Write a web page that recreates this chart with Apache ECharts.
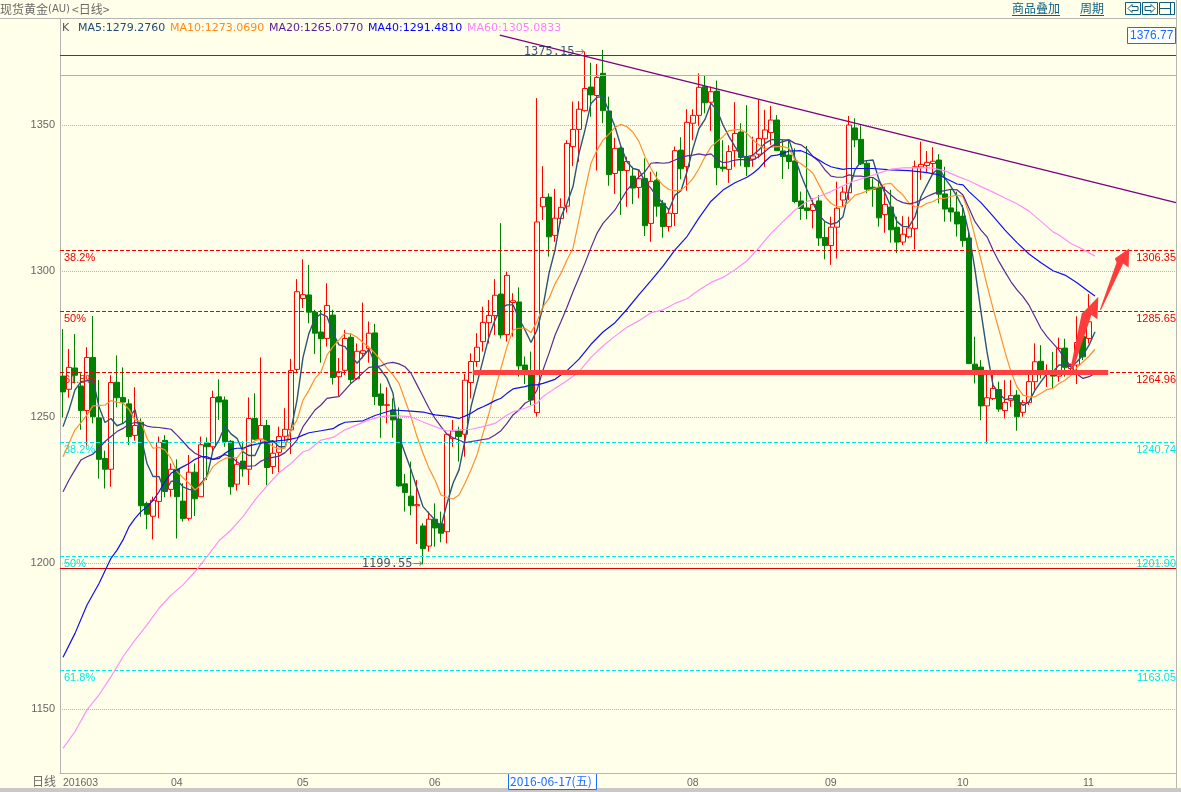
<!DOCTYPE html>
<html>
<head>
<meta charset="utf-8">
<style>html,body{margin:0;padding:0;background:#FFFFEA;overflow:hidden}#c{width:1181px;height:792px}</style>
<script src="https://cdn.jsdelivr.net/npm/echarts@6/dist/echarts.min.js"></script>
</head>
<body>
<div id="c"></div>
<script>
const categories = ['03-08','03-09','03-10','03-11','03-14','03-15','03-16','03-17','03-18','03-21','03-22','03-23','03-24','03-25','03-28','03-29','03-30','03-31',
'04-01','04-04','04-05','04-06','04-07','04-08','04-11','04-12','04-13','04-14','04-15','04-18','04-19','04-20','04-21','04-22','04-25','04-26','04-27','04-28','04-29',
'05-02','05-03','05-04','05-05','05-06','05-09','05-10','05-11','05-12','05-13','05-16','05-17','05-18','05-19','05-20','05-23','05-24','05-25','05-26','05-27','05-30','05-31',
'06-01','06-02','06-03','06-06','06-07','06-08','06-09','06-10','06-13','06-14','06-15','06-16','06-17','06-20','06-21','06-22','06-23','06-24','06-27','06-28','06-29','06-30',
'07-01','07-04','07-05','07-06','07-07','07-08','07-11','07-12','07-13','07-14','07-15','07-18','07-19','07-20','07-21','07-22','07-25','07-26','07-27','07-28','07-29',
'08-01','08-02','08-03','08-04','08-05','08-08','08-09','08-10','08-11','08-12','08-15','08-16','08-17','08-18','08-19','08-22','08-23','08-24','08-25','08-26','08-29','08-30','08-31',
'09-01','09-02','09-05','09-06','09-07','09-08','09-09','09-12','09-13','09-14','09-15','09-16','09-19','09-20','09-21','09-22','09-23','09-26','09-27','09-28','09-29','09-30',
'10-03','10-04','10-05','10-06','10-07','10-10','10-11','10-12','10-13','10-14','10-17','10-18','10-19','10-20','10-21','10-24','10-25','10-26','10-27','10-28','10-31',
'11-01','11-02','11-03','11-04','11-07','11-08','11-09','11-10','11-11','11-14','11-15','11-16','11-17','11-18','11-21','11-22'];
const monthTicks = {'03-08':'201603','04-01':'04','05-02':'05','06-01':'06','08-01':'08','09-01':'09','10-03':'10','11-01':'11'};
const priceTicks = [1150,1200,1250,1300,1350];

// open, close, low, high
const candles = [
[1264.0,1258.6,1249.8,1280.1],[1259.5,1267.0,1256.6,1273.3],[1266.8,1264.3,1261.5,1278.4],[1260.6,1252.2,1245.6,1265.0],[1252.2,1270.4,1239.8,1273.9],
[1270.4,1250.1,1247.8,1284.6],[1249.7,1235.5,1228.9,1262.7],[1235.8,1232.1,1225.5,1238.5],[1232.1,1261.8,1226.1,1264.3],[1261.9,1256.6,1253.3,1271.1],
[1256.7,1255.1,1247.8,1267.0],[1254.5,1243.3,1240.4,1256.1],[1243.7,1247.1,1241.9,1260.2],[1248.2,1219.6,1215.9,1249.5],[1220.4,1216.7,1211.6,1221.0],
[1216.0,1221.5,1208.1,1222.7],[1221.1,1241.3,1215.3,1243.3],[1242.0,1224.5,1222.5,1243.8],[1225.2,1232.1,1222.7,1234.1],[1232.1,1222.7,1208.4,1235.5],
[1221.2,1215.2,1214.2,1227.3],[1215.3,1231.1,1214.5,1237.0],[1231.1,1222.0,1216.1,1234.1],[1222.7,1240.5,1222.7,1243.3],[1241.1,1239.8,1228.4,1243.0],
[1239.8,1256.7,1238.1,1259.0],[1256.9,1255.1,1249.0,1262.9],[1255.8,1241.6,1239.8,1257.0],[1241.7,1226.1,1223.4,1242.1],[1227.0,1233.8,1224.8,1235.8],
[1234.9,1232.2,1229.6,1241.6],[1232.1,1249.5,1226.7,1256.7],[1249.5,1242.4,1242.1,1258.1],[1242.4,1247.1,1241.0,1270.4],[1247.1,1232.7,1226.6,1249.0],
[1233.0,1237.6,1230.5,1242.1],[1237.9,1243.3,1231.1,1246.7],[1243.4,1245.8,1241.6,1253.0],[1245.6,1265.9,1237.3,1269.9],[1266.3,1292.9,1265.0,1297.2],
[1290.6,1291.9,1287.3,1304.0],[1291.8,1285.9,1282.1,1302.1],[1285.9,1278.7,1271.6,1286.7],[1279.1,1276.8,1268.6,1286.7],[1276.9,1288.2,1274.1,1295.8],
[1284.9,1263.5,1261.1,1286.7],[1263.8,1265.5,1257.2,1270.2],[1266.0,1276.9,1264.4,1279.8],[1277.3,1262.8,1261.5,1278.7],[1263.1,1272.5,1262.7,1275.2],
[1271.8,1272.7,1270.1,1289.2],[1273.4,1278.7,1268.6,1282.7],[1278.8,1257.0,1254.1,1281.9],[1257.9,1254.0,1242.9,1261.5],[1254.0,1254.2,1247.8,1260.2],
[1252.4,1249.0,1242.9,1256.4],[1249.3,1226.4,1226.1,1253.3],[1227.1,1224.1,1217.6,1230.5],[1222.9,1219.6,1216.4,1234.7],[1219.6,1220.0,1206.5,1228.4],
[1212.7,1204.9,1199.55,1213.6],[1205.8,1215.0,1203.9,1217.6],[1215.0,1212.0,1205.6,1220.4],[1213.4,1210.2,1207.1,1217.6],[1210.7,1244.1,1206.7,1244.4],
[1242.6,1245.2,1239.8,1249.0],[1245.2,1243.3,1234.7,1246.7],[1244.1,1262.6,1236.4,1264.7],[1261.8,1269.0,1256.4,1271.8],[1269.0,1273.9,1267.2,1278.7],
[1275.8,1282.4,1272.4,1287.8],[1282.3,1284.8,1275.2,1290.1],[1284.7,1291.7,1278.1,1297.2],[1292.1,1278.1,1276.9,1316.4],[1278.2,1298.5,1275.8,1299.8],
[1289.2,1289.8,1277.5,1292.4],[1289.4,1267.5,1263.8,1294.4],[1267.8,1266.1,1261.3,1270.7],[1264.7,1255.8,1254.1,1272.4],[1251.5,1316.8,1250.1,1359.2],
[1322.0,1325.2,1317.5,1335.9],[1325.3,1311.7,1304.9,1326.6],[1312.2,1318.1,1310.0,1328.1],[1318.0,1321.8,1316.3,1324.9],[1322.2,1343.7,1320.0,1344.8],
[1342.6,1348.5,1335.9,1358.0],[1348.5,1355.4,1337.4,1358.2],[1354.9,1362.5,1354.6,1375.15],[1363.0,1360.3,1352.8,1371.3],[1360.1,1366.3,1334.4,1370.9],
[1367.7,1354.9,1350.6,1375.7],[1354.8,1333.0,1329.2,1359.7],[1333.4,1342.0,1326.4,1345.6],[1342.1,1334.4,1319.2,1342.6],[1334.4,1337.5,1322.0,1339.1],
[1332.5,1328.4,1322.9,1335.7],[1328.6,1331.6,1324.9,1334.6],[1331.7,1315.5,1312.0,1338.6],[1316.3,1330.7,1310.0,1334.0],[1331.1,1322.2,1318.6,1334.0],
[1323.2,1315.2,1311.4,1324.3],[1315.2,1319.8,1313.5,1321.4],[1319.7,1341.2,1315.4,1342.6],[1341.4,1335.0,1331.4,1345.8],[1335.7,1350.9,1327.5,1355.4],
[1350.6,1353.3,1344.8,1355.4],[1353.3,1362.9,1349.6,1367.7],[1363.1,1357.6,1354.0,1366.8],[1357.8,1361.4,1348.0,1363.1],[1361.6,1335.4,1329.4,1365.2],
[1335.6,1335.0,1334.0,1344.8],[1334.8,1340.9,1330.2,1343.1],[1341.2,1347.1,1335.7,1357.8],[1347.6,1338.9,1335.9,1350.6],[1338.9,1335.7,1332.5,1356.8],
[1338.3,1339.4,1335.7,1346.0],[1340.0,1345.4,1338.6,1358.6],[1345.3,1348.3,1335.7,1355.2],[1347.4,1351.7,1343.2,1356.5],[1351.7,1341.2,1341.1,1353.4],
[1341.1,1339.2,1331.5,1344.9],[1339.7,1337.5,1334.9,1344.9],[1337.7,1323.8,1323.2,1342.0],[1324.0,1321.4,1317.5,1327.2],[1321.6,1320.7,1317.7,1342.8],
[1320.7,1322.8,1314.6,1324.9],[1324.0,1311.3,1308.6,1326.0],[1311.5,1308.7,1304.0,1316.9],[1308.7,1315.0,1302.1,1318.6],[1315.0,1321.5,1304.3,1330.6],
[1324.3,1327.0,1322.0,1328.9],[1326.8,1350.0,1324.3,1353.1],[1349.0,1344.9,1342.4,1352.3],[1345.1,1336.7,1336.3,1349.8],[1336.9,1328.0,1326.6,1338.0],
[1328.7,1328.0,1322.0,1331.7],[1328.6,1318.2,1315.2,1330.6],[1319.3,1322.8,1313.1,1328.9],[1321.9,1314.1,1309.7,1327.8],[1315.0,1309.9,1306.1,1318.6],
[1309.9,1312.6,1308.9,1318.8],[1311.7,1314.7,1311.2,1318.6],[1314.5,1335.7,1307.4,1337.8],[1335.6,1336.5,1331.2,1344.3],[1336.1,1337.2,1333.5,1341.1],
[1336.8,1337.6,1333.5,1342.4],[1338.0,1326.3,1323.2,1340.0],[1326.4,1321.2,1316.9,1335.7],[1321.6,1320.2,1316.9,1327.8],[1320.2,1316.1,1311.8,1327.2],
[1318.8,1310.4,1308.3,1322.6],[1311.3,1268.3,1268.1,1313.5],[1268.1,1266.1,1261.5,1277.5],[1267.1,1253.8,1248.9,1269.5],[1253.8,1256.6,1240.9,1265.5],
[1256.3,1259.8,1255.8,1264.9],[1259.4,1252.7,1251.8,1262.1],[1252.2,1255.0,1249.5,1262.6],[1255.7,1257.3,1253.5,1262.6],[1257.5,1250.1,1245.3,1259.2],
[1251.6,1254.9,1250.1,1255.8],[1254.9,1262.1,1254.1,1264.9],[1262.1,1268.9,1259.4,1275.2],[1269.1,1264.6,1263.2,1274.6],[1264.6,1265.5,1260.3,1268.0],
[1264.9,1264.0,1259.8,1272.3],[1264.0,1273.5,1262.1,1277.2],[1273.6,1267.0,1263.8,1276.8],[1266.6,1268.0,1265.5,1268.3],[1267.8,1275.5,1261.3,1284.5],
[1277.5,1270.6,1269.5,1279.8],[1276.9,1282.6,1275.2,1292.1]
];

const ma5 = [1246.7,1252.4,1259.3,1262.1,1262.4,1262.7,1253.5,1248.1,1249.5,1247,1247.8,1249.5,1252.6,1243.3,1234.1,1229.6,1229.6,1224.4,1227.9,1228.4,1226.1,1225.2,1224.8,1227.3,1229.6,1238.7,1242.1,1246.9,1244.2,1242.7,1238.1,1236.8,1236.8,1241.3,1241.6,1241.9,1239.8,1239.8,1245.6,1255.8,1270.4,
1278.7,1283.8,1285.3,1284.4,1278.7,1274.7,1274.1,1271.2,1268.4,1270.7,1273.2,1268.4,1266.1,1263.2,1258.1,1243.3,1237.6,1231.9,1225.6,1219.3,1217,1214.7,1212.4,1220.4,1227.3,1231.9,1242.1,1253.5,1261.5,1269.5,1277.5,1283.2,1287.2,1288.4,1288.4,1283.8,1279.8,1275.5,1279.8,1287.8,
1299.2,1307.2,1318.6,1323.2,1328.9,1340.3,1348.3,1357.4,1359.5,1359.7,1354.6,1349.4,1342.6,1337.4,1335.1,1334.6,1330.6,1328.3,1325.4,1323.2,1320.9,1326,1327.5,1334,1342,1348.8,1351.9,1357.4,1355.1,1350,1346,1342.6,1339.4,1339.1,
1339.7,1341.5,1343.7,1344.9,1345.1,1344.9,1344.9,1338.6,1332.9,1327.8,1323.2,1319.2,1316.9,1316,1316.6,1318.6,1327.8,1334.6,1337.5,1337.8,1338,1331.2,1326.6,1322,1316.9,1315.2,1315.2,1318.6,1325.5,1329.5,1333.5,1335.2,1331.7,1328.9,1325.5,1321.5,1312.9,1300.4,
1286,1272.3,1260.9,1258.1,1256,1256.3,1255.8,1254,1255.2,1259.2,1262.1,1264.9,1265.5,1267.8,1267.8,1267.2,1268.9,1271.2,1274.6,1279.2];

const ma10 = [1236.4,1241,1245.6,1248.1,1250.7,1253.8,1253.9,1254.1,1255.6,1255.1,1254.7,1252.6,1249,1248.4,1242.7,1239.3,1239.6,1238.7,1235.8,1231.3,1229.2,1227.3,1225,1226.7,1229.6,1233,1234.7,1235.8,1236.2,1236,1238.7,1240.4,1241.9,1242.5,1241.6,1239.8,1239,1239.3,1245.6,1249,1255.8,
1259.2,1263.2,1265.5,1271.2,1274.1,1276.4,1278.7,1278.4,1277.3,1275.5,1273.9,1271.8,1269.3,1266.7,1264.4,1261.5,1255.8,1250.1,1243.3,1237.6,1232.4,1228.4,1223.3,1222.5,1221.9,1223.3,1227.3,1231.9,1237,1244.4,1251.3,1259.2,1266.7,1274.1,1279.8,1280.4,1280.4,1278.9,1282.7,1287.8,1290.6,
1295.6,1299.2,1303.8,1307.8,1317.5,1327.7,1336.9,1341.4,1344.8,1346.9,1349.2,1350.2,1349.4,1347.5,1344.3,1339.1,1335.1,1331.7,1329.4,1327.9,1327.5,1327.7,1329.4,1331.7,1335.1,1339.1,1342.6,1344.3,1346,1348.1,1348.3,1348.5,1347.1,
1344.9,1343.2,1341.7,1342.4,1342.6,1342.6,1342,1338,1336.7,1335.2,1333.5,1329.5,1325.5,1323.2,1322,1322,1323.8,1326,1326.6,1327.4,1328.1,1328.9,1329.8,1330,1327.8,1326,1323.2,1322,1322,1323.2,1323.8,1324.9,1324.9,1325.5,1326,1325.5,1319.8,1311.8,
1303.7,1295.2,1287.2,1279.8,1272.3,1265.5,1260.3,1257.5,1256.9,1256.9,1258.1,1259.4,1259.8,1261.5,1262.6,1264.3,1267,1268.9,1270.8,1273.2];

const ma20 = [1224.4,1228.4,1231.9,1235.3,1236.4,1237.3,1239.3,1241.6,1243.3,1245,1246.1,1247.5,1248.1,1247.8,1246.9,1246.5,1246.4,1246.1,1245.8,1243.8,1241.6,1239.3,1237.6,1236.6,1235.8,1235.5,1236.4,1237.1,1236.4,1234.7,1233.3,1233.2,1233.3,1234.9,1235.8,1236.2,1236.6,1237.8,1239.8,1242.1,1246.7,
1249.5,1252.4,1254.1,1256.4,1256.7,1257,1259.2,1261.5,1263.2,1265.2,1267,1267.2,1267.5,1268.4,1268.7,1268.2,1267.2,1265,1261,1257,1253,1249.5,1246.7,1244.1,1242.9,1242.1,1241.2,1241.6,1241.9,1242.3,1242.6,1243.8,1245.3,1247.8,1250.7,1252.4,1254.7,1255.8,1259.2,1266.1,1271.8,
1278,1282.7,1287.6,1292.9,1297.8,1302.7,1308,1312.9,1316.3,1318.6,1320.9,1324.3,1327.7,1330,1332.3,1334,1336.9,1337.1,1336.9,1337.1,1338,1338.9,1339.4,1339.7,1340.1,1339.7,1340.1,1338.2,1337.1,1337.4,1338,1338.2,1338,
1338,1339.2,1340.9,1342.6,1343.7,1344.3,1344.9,1343.7,1343.2,1341.7,1339.2,1337.5,1334.6,1332.5,1332.1,1332.1,1332.9,1332.5,1332.5,1332.1,1332,1330.6,1327.8,1326,1324.3,1323.4,1323,1323.4,1324.3,1325.5,1326.4,1327.2,1327.5,1328,1327.8,1326,1321.5,1316.9,
1314,1311.7,1307.2,1303.2,1299.7,1296.3,1293.5,1291.2,1288.3,1284.3,1280.3,1277.5,1275.2,1272.9,1270,1267.2,1264.7,1263.2,1263.8,1264.9];

// category position and value, read where the curve could be read
const ma40 = [[0,1167.7],[2,1175.9],[4,1185.6],[6,1193],[8,1201.6],[9,1204.4],[10,1207.9],[11,1212.4],[12,1215.3],[13,1217.6],[14,1219.3],[15,1221.4],[16,1224.4],[17,1227.9],[18,1230.7],[19,1231.9],[20,1233],[21,1234.1],[22,1235.5],[23,1236.4],[24,1236.4],[25,1235.5],[26,1235.8],[27,1237.6],[28,1238.9],[29,1239.3],[30,1239.3],[31,1240.1],[32,1240.6],[33,1241],[34,1241.3],[35,1241.6],[36,1241.9],[37,1242.1],[38,1242.4],[39,1242.9],[40,1243.8],[41,1244.6],[43,1245.3],[45,1246],[46,1247.3],[47,1248.2],[50,1248.7],[52,1250.5],[54,1251.8],[55,1252.4],[58,1252],[60,1251.7],[62,1250.7],[64,1250.3],[66,1249.5],[67,1250.3],[68,1251.3],[69,1252.6],[70,1253.5],[71,1254.5],[72,1255.6],[73,1256.4],[74,1258.1],[75,1259.6],[77,1260.4],[78,1261],[79,1261],[80,1261.5],[82,1262.9],[84,1265.9],[86,1269.8],[88,1274.9],[90,1279.1],[92,1282.3],[94,1286.9],[96,1291.9],[98,1296.7],[100,1301.7],[102,1307.2],[104,1311.8],[106,1318.2],[108,1323.9],[110,1327.7],[112,1330.2],[114,1332.1],[115,1333.5],[116,1335.2],[117,1337.5],[118,1339.4],[119,1339.7],[120,1340.3],[121,1341.1],[123,1341.2],[124,1340.3],[125,1339.2],[126,1338],[127,1336.7],[128,1335.7],[129,1335.2],[130,1334.8],[131,1335.1],[135,1335.1],[138,1334.6],[141,1334.4],[144,1333.7],[146,1332.9],[149,1329.8],[150,1329.5],[151,1327.2],[153,1323.4],[155,1318.8],[157,1314],[159,1309.7],[161,1305.8],[163,1302.8],[165,1300.1],[167,1298.6],[169,1296],[171,1292.9],[172,1291.4]];
const ma60 = [[0,1136.5],[2,1142.3],[4,1149.7],[6,1154.8],[8,1161.1],[10,1167.9],[12,1173.6],[14,1178.8],[16,1184.5],[18,1189],[20,1192.5],[22,1197],[24,1202.2],[26,1207.6],[28,1211.3],[30,1215.9],[32,1221.6],[34,1226.4],[36,1230.9],[38,1234.1],[40,1238.1],[41,1238.7],[43,1242.1],[45,1243],[47,1245.6],[49,1247.3],[51,1249],[53,1250.1],[55,1250.5],[58,1250.1],[60,1248.3],[62,1246.7],[64,1245.2],[66,1245.6],[68,1245.8],[70,1246.7],[72,1247.8],[74,1250.7],[75,1251.8],[77,1253],[79,1254.7],[80,1257],[82,1259.8],[84,1262.4],[86,1265.5],[88,1270.4],[90,1274.3],[92,1277.7],[94,1280.7],[96,1283],[98,1285.7],[100,1286.7],[102,1288.9],[104,1290.5],[106,1293.5],[108,1296.1],[110,1297.8],[112,1300.4],[114,1303.5],[116,1308],[118,1312.9],[120,1316.9],[122,1320.9],[124,1323.8],[126,1325.5],[128,1327.2],[130,1329.2],[132,1330.9],[134,1332.1],[136,1333.5],[138,1334.9],[140,1335.3],[143,1335.4],[145,1335.2],[147,1334.3],[149,1332.5],[151,1330.9],[153,1328.9],[155,1327],[157,1325],[159,1323],[161,1320.5],[163,1317],[165,1313.4],[166,1312.3],[168,1309.4],[170,1307.4],[172,1305.1]];

const legendItems = ['MA5:1279.2760','MA10:1273.0690','MA20:1265.0770','MA40:1291.4810','MA60:1305.0833'];
const redLevels = [1307.1,1286.2,1265.3];
const redLevelText = ['1306.35','1285.65','1264.96'];
const redPctText = ['38.2%','50%','61.8%'];
const cyanLevels = [1241.3,1202.3,1163.3];
const cyanLevelText = ['1240.74','1201.90','1163.05'];
const cyanPctText = ['38.2%','50%','61.8%'];
const solidRedLevels = [1373.9,1198.2];
const solidCyanLevels = [1367];
const trendLine = [[72.8,1380.8],[185.5,1323.4]];
const supportBar = [[68.3,1265.2],[174.2,1265.2]];
const arrowShapes = [
 [[167.9,1266.5],[169.8,1285.5],[170.3,1286.4],[172.55,1291.2],[172.4,1283.5],[171.4,1284.9],[168.4,1266.5]],
 [[172.8,1286.6],[175.6,1302.9],[175.3,1304.3],[177.7,1307.7],[177.6,1301.2],[176.7,1302.6],[173.0,1286.6]]
];
const extremeNotes = [{x:87,v:1375.15,t:'1375.15'},{x:60,v:1199.55,t:'1199.55'}];

const uiFont = 'Liberation Sans';
const chart = echarts.init(document.getElementById('c'), null, {renderer:'canvas'});

function plainLine(name, data, color, width){
  return {name, type:'line', data, symbol:'none', smooth:false, silent:true, z:5,
    lineStyle:{color, width}, itemStyle:{color}};
}
function levelLines(values, color, type, width){
  return {type:'line', data:[], silent:true, z:3,
    markLine:{silent:true, symbol:'none', animation:false, label:{show:false},
      lineStyle:{color, type, width}, data:values.map(v=>({yAxis:v}))}};
}
function levelLabels(values, texts, color, pos){
  return {type:'line', data:[], silent:true, z:6,
    markLine:{silent:true, symbol:'none', animation:false,
      lineStyle:{color:'transparent', width:0},
      label:{show:true, position:pos, distance:[4,2], color, fontFamily:uiFont, fontSize:11,
        formatter:p=>texts[p.dataIndex]},
      data:values.map(v=>({yAxis:v}))}};
}
function endLabels(values, texts, color){
  const s = levelLabels(values, texts, color, 'insideEndBottom');
  s.markLine.label.distance = [0,2];
  return s;
}

const legendColors = ['#1E4B73','#FF8A1E','#5A1A96','#0000FF','#FF7FFF'];
const legendX = [78,170,269,368,467];
const g = [
  {type:'rect',shape:{x:0,y:788,width:1181,height:4},style:{fill:'#C8C8C8'},silent:true},
  {type:'rect',shape:{x:0,y:18,width:1177,height:1},style:{fill:'#B4B4B4'},silent:true},
  {type:'rect',shape:{x:1176,y:0,width:1,height:788},style:{fill:'#B8B8B8'},silent:true},
  {type:'text',x:0,y:3,style:{text:'现货黄金',font:'12px "Noto Sans CJK SC"',fill:'#6A6A6A'}},
  {type:'text',x:48,y:4,style:{text:'(AU)',font:'10px "DejaVu Sans"',fill:'#6A6A6A'}},
  {type:'text',x:72,y:3,style:{text:'<日线>',font:'12px "Noto Sans CJK SC"',fill:'#6A6A6A'}},
  {type:'text',x:62,y:23,style:{text:'K',font:'11px "DejaVu Sans"',fill:'#555'}},
  {type:'text',x:1012,y:2,style:{text:'商品叠加',font:'12px "Noto Sans CJK SC"',fill:'#0B5E82'}},
  {type:'text',x:1080,y:2,style:{text:'周期',font:'12px "Noto Sans CJK SC"',fill:'#0B5E82'}},
  {type:'rect',shape:{x:1012,y:15,width:48,height:1},style:{fill:'#0B5E82'}},
  {type:'rect',shape:{x:1080,y:15,width:24,height:1},style:{fill:'#0B5E82'}},
  {type:'rect',shape:{x:1125.5,y:2.5,width:15,height:12},style:{fill:'#FFFFEA',stroke:'#0B5E82'}},
  {type:'rect',shape:{x:1142.5,y:2.5,width:15,height:12},style:{fill:'#FFFFEA',stroke:'#0B5E82'}},
  {type:'rect',shape:{x:1159.5,y:2.5,width:15,height:12},style:{fill:'#FFFFEA',stroke:'#0B5E82'}},
  {type:'polyline',shape:{points:[[1128,8.5],[1132,4.5],[1132,6.5],[1138,6.5],[1138,10.5],[1132,10.5],[1132,12.5],[1128,8.5]]},style:{fill:'none',stroke:'#0B5E82'}},
  {type:'polyline',shape:{points:[[1155,8.5],[1151,4.5],[1151,6.5],[1145,6.5],[1145,10.5],[1151,10.5],[1151,12.5],[1155,8.5]]},style:{fill:'none',stroke:'#0B5E82'}},
  {type:'polyline',shape:{points:[[1160,8.5],[1170,8.5]]},style:{fill:'none',stroke:'#0B5E82'}},
  {type:'polyline',shape:{points:[[1170.5,3],[1170.5,14]]},style:{fill:'none',stroke:'#0B5E82'}},
  {type:'rect',shape:{x:1127.5,y:27.5,width:48,height:16},style:{fill:'#FFFFFF',stroke:'#1A6CFF'}},
  {type:'text',x:1130,y:30,style:{text:'1376.77',font:'12px "Liberation Sans"',fill:'#1A6CFF'}},
  {type:'text',x:32,y:775,style:{text:'日线',font:'12px "Noto Sans CJK SC"',fill:'#6A6A6A'}},
  {type:'rect',shape:{x:508.5,y:773.5,width:88,height:16},style:{fill:'#FFFFFF',stroke:'#1A6CFF'}},
  {type:'text',x:510,y:775,style:{text:'2016-06-17(五)',font:'12px "Noto Sans CJK SC"',fill:'#1A6CFF'}}
];
legendItems.forEach((t,i)=>g.push({type:'text',x:legendX[i],y:23,style:{text:t,font:'11px "DejaVu Sans"',fill:legendColors[i]}}));

chart.setOption({
  animation:false,
  backgroundColor:'#FFFFEA',
  grid:{left:60,top:19,width:1116,height:754,containLabel:false},
  xAxis:[
    {type:'category',data:categories,boundaryGap:true,
      axisLine:{lineStyle:{color:'#B4B4B4'}},axisTick:{show:false},splitLine:{show:false},
      axisLabel:{interval:(i,v)=>v in monthTicks,formatter:v=>monthTicks[v]||'',
        align:'left',color:'#666',fontFamily:uiFont,fontSize:10.5,margin:5,hideOverlap:false}},
    {type:'value',min:-0.5,max:185.5,show:false,splitLine:{show:false}}
  ],
  yAxis:[{type:'value',min:1128.08,max:1386.3,scale:true,
    axisLine:{show:true,onZero:false,lineStyle:{color:'#B4B4B4'}},
    axisTick:{show:false,customValues:priceTicks},
    axisLabel:{customValues:priceTicks,formatter:v=>String(v),color:'#666',fontFamily:uiFont,fontSize:11,margin:5},
    splitLine:{show:true,lineStyle:{color:'#B5B5A8',type:'dotted',width:1}}}],
  series:[
    levelLines(solidRedLevels,'#E00000','solid',1),
    levelLines(solidCyanLevels,'#40E0E0','solid',1),
    levelLines(redLevels,'#F00000','dashed',1),
    levelLines(cyanLevels,'#00E8E8','dashed',1),
    {name:'K',type:'candlestick',data:candles,barWidth:5,silent:true,z:4,
      itemStyle:{color:'#FFFFEA',color0:'#008000',borderColor:'#FF0000',borderColor0:'#008000',borderWidth:1}},
    plainLine('MA5',ma5,'#2A5578',1.4),
    plainLine('MA10',ma10,'#FF9030',1.2),
    plainLine('MA20',ma20,'#5A2A96',1.2),
    plainLine('MA40',ma40,'#1010F0',1.2),
    plainLine('MA60',ma60,'#FF90F8',1.2),
    endLabels(redLevels,redLevelText,'#F00000'),
    levelLabels(redLevels,redPctText,'#F00000','insideStartBottom'),
    endLabels(cyanLevels,cyanLevelText,'#00E8E8'),
    levelLabels(cyanLevels,cyanPctText,'#00E8E8','insideStartBottom'),
    {name:'trend',type:'line',xAxisIndex:1,yAxisIndex:0,data:trendLine,symbol:'none',silent:true,z:6,
      lineStyle:{color:'#800080',width:1.4}},
    {name:'support',type:'line',xAxisIndex:1,yAxisIndex:0,data:supportBar,symbol:'none',silent:true,z:7,
      lineStyle:{color:'#FF4040',width:5,cap:'butt'}},
    {name:'arrows',type:'custom',xAxisIndex:1,yAxisIndex:0,silent:true,z:8,clip:false,
      data:arrowShapes.map(a=>a[0]),
      renderItem:(params,api)=>({type:'polygon',
        shape:{points:arrowShapes[params.dataIndex].map(p=>api.coord(p))},
        style:{fill:'#FF3C3C',stroke:'none'}})},
    {name:'extremes',type:'scatter',xAxisIndex:1,yAxisIndex:0,silent:true,z:9,symbolSize:1,
      itemStyle:{color:'transparent'},
      data:extremeNotes.map(n=>({value:[n.x,n.v],note:n.t})),
      label:{show:true,position:'left',distance:0,
        formatter:p=>'{a|'+p.data.note+'}{b|→}',
        rich:{a:{color:'#0B2A55',fontFamily:'DejaVu Sans Mono',fontSize:12},
              b:{color:'#666',fontFamily:'DejaVu Sans',fontSize:12}}}}
  ],
  graphic:{elements:g}
});
</script>
</body>
</html>
